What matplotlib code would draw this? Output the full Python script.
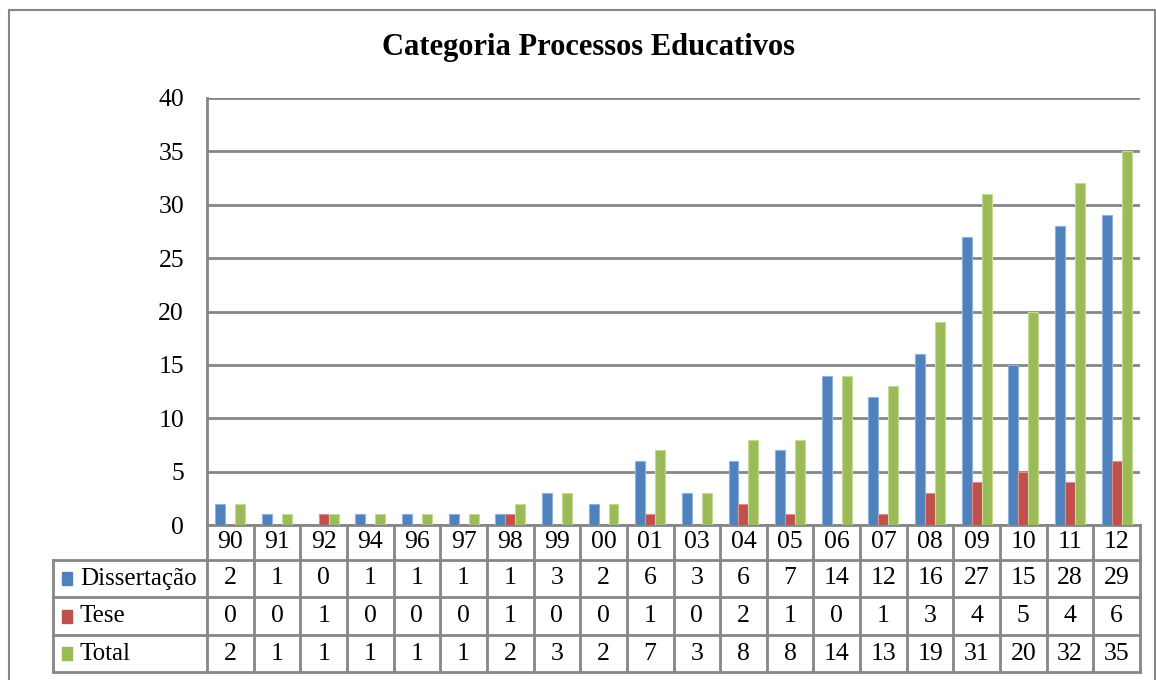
import matplotlib.pyplot as plt
import numpy as np
from matplotlib.patches import Rectangle
from matplotlib.transforms import blended_transform_factory

# ── Data ──────────────────────────────────────────────────────────────────────
anos = ["90", "91", "92", "94", "96", "97", "98", "99", "00", "01",
        "03", "04", "05", "06", "07", "08", "09", "10", "11", "12"]
dissertacao = [2, 1, 0, 1, 1, 1, 1, 3, 2, 6, 3, 6, 7, 14, 12, 16, 27, 15, 28, 29]
tese        = [0, 0, 1, 0, 0, 0, 1, 0, 0, 1, 0, 2, 1, 0, 1, 3, 4, 5, 4, 6]
total       = [2, 1, 1, 1, 1, 1, 2, 3, 2, 7, 3, 8, 8, 14, 13, 19, 31, 20, 32, 35]

series = [
    ("Dissertação", dissertacao, "#4F81BD", "#8FB1DD"),
    ("Tese",        tese,        "#C0504D", "#DE8F8C"),
    ("Total",       total,       "#9BBB59", "#C3DB93"),
]

W, H = 1156, 680
GRID = "#868686"
FONT = "Liberation Serif"
FS = 18.5

def fy(py):
    return 1 - py / H

fig = plt.figure(figsize=(W / 100, H / 100), dpi=100)

# outer chart border
fig.patches.append(Rectangle((9 / W, fy(700)), (1155 - 9) / W, (700 - 10) / H,
                             transform=fig.transFigure, fill=False,
                             edgecolor=GRID, linewidth=1.5))

fig.text(588 / W, fy(48), "Categoria Processos Educativos", ha="center", va="center",
         fontsize=22, fontweight="bold", family=FONT)

# ── Plot area ─────────────────────────────────────────────────────────────────
x0, x1, ytop, ybot = 207, 1140, 98, 525
ax = fig.add_axes([x0 / W, fy(ybot), (x1 - x0) / W, (ybot - ytop) / H])

x = np.arange(len(anos))
bw = 0.214
for k, (name, vals, color, edge) in enumerate(series):
    ax.bar(x + (k - 1) * bw, vals, width=bw, color=color, edgecolor=edge,
           linewidth=0.8, zorder=3)

ax.set_xlim(-0.5, len(anos) - 0.5)
ax.set_ylim(0, 40)
ax.set_yticks(range(0, 41, 5))
ax.set_xticks([])
ax.yaxis.grid(True, color=GRID, linewidth=2, zorder=0)
for side in ["top", "right"]:
    ax.spines[side].set_visible(False)
for side in ["left", "bottom"]:
    ax.spines[side].set_color(GRID)
    ax.spines[side].set_linewidth(2)
ax.tick_params(axis="y", length=0, pad=16.5, labelsize=FS)
for lbl in ax.get_yticklabels():
    lbl.set_family(FONT)

# ── Data table ────────────────────────────────────────────────────────────────
tr = blended_transform_factory(ax.transData, fig.transFigure)
rows_py = [525, 560, 597, 635, 672]
left = -0.5 - (x0 - 53) / ((x1 - x0) / len(anos))
right = len(anos) - 0.5

def hline(py, xa, xb):
    ax.plot([xa, xb], [fy(py), fy(py)], transform=tr, color=GRID, lw=2,
            clip_on=False, solid_capstyle="projecting")

def vline(xv, pa, pb):
    ax.plot([xv, xv], [fy(pa), fy(pb)], transform=tr, color=GRID, lw=2,
            clip_on=False, solid_capstyle="projecting")

for py in rows_py[1:]:
    hline(py, left, right)
vline(left, rows_py[1], rows_py[-1])
for i in range(len(anos) + 1):
    vline(i - 0.5, rows_py[0], rows_py[-1])

def ymid(r):
    return fy((rows_py[r] + rows_py[r + 1]) / 2)

for i, a in enumerate(anos):
    ax.text(i, ymid(0), a, transform=tr, ha="center", va="center",
            fontsize=FS, family=FONT, clip_on=False)

for r, (name, vals, color, edge) in enumerate(series, start=1):
    yc = ymid(r)
    fig.patches.append(Rectangle((62 / W, yc - 6.5 / H), 10 / W, 13 / H,
                                 transform=fig.transFigure, color=color))
    fig.text(80 / W, yc, name, ha="left", va="center", fontsize=18, family=FONT)
    for i, v in enumerate(vals):
        ax.text(i, yc, str(v), transform=tr, ha="center", va="center",
                fontsize=FS, family=FONT, clip_on=False)

fig.savefig("out.png", dpi=100)
